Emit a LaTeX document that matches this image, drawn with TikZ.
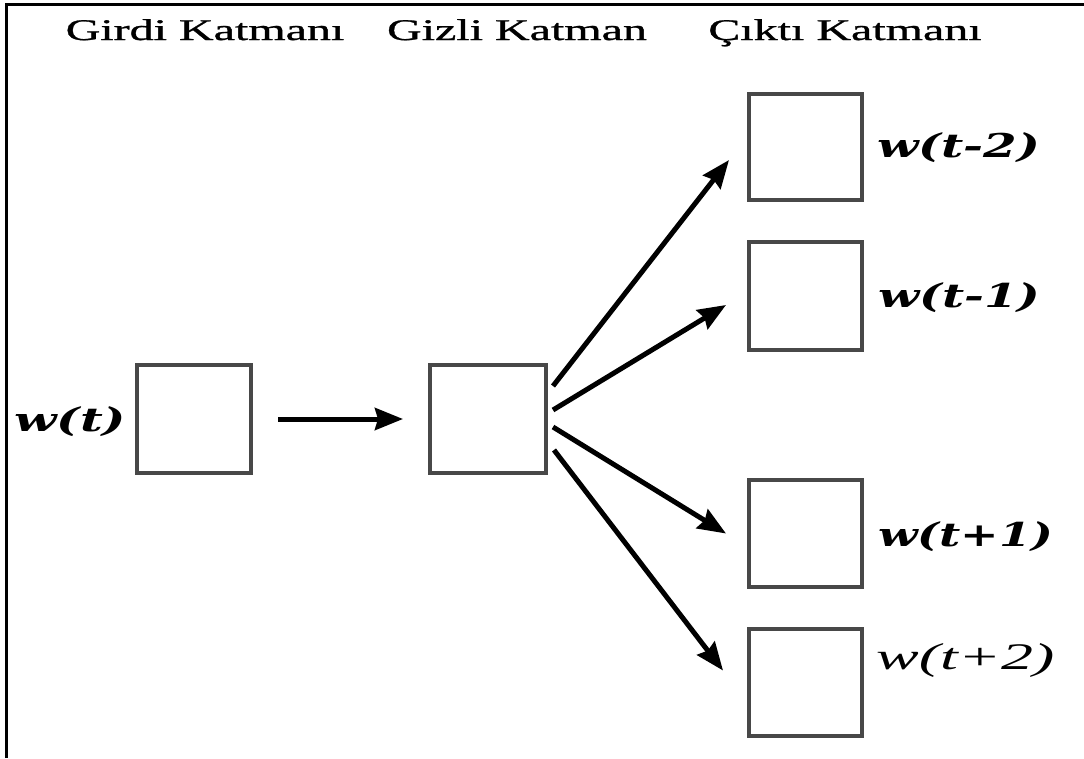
\documentclass[tikz,border=0pt]{standalone}
\usepackage{fontspec}
\setmainfont{Liberation Serif}
\newfontfamily\headfont[FakeBold=0.8]{Liberation Serif}
\newfontfamily\lblfont{DejaVu Serif}
\usetikzlibrary{arrows.meta}
\definecolor{boxgray}{RGB}{72,72,72}
\tikzset{
  layer/.style={draw=boxgray, line width=4pt, inner sep=0pt,
                minimum width=113pt, minimum height=107pt},
  arr/.style={line width=5pt, -{Stealth[length=28pt,width=22pt,inset=3pt]}},
  head/.style={anchor=base, inner sep=0pt},
  lbl/.style={anchor=west, inner sep=0pt}
}
% wide serif heading text
\newcommand\headtext[1]{\scalebox{1.6}[1]{\headfont\fontsize{30}{36}\selectfont #1}}
% word labels, sized to a fixed width and total height
\newcommand\wlabel[3]{\resizebox*{#1}{#2}{\lblfont\bfseries\itshape #3}}
\newcommand\wlabelplain[3]{\resizebox*{#1}{#2}{\itshape #3}}
\begin{document}
\begin{tikzpicture}[x=1pt,y=-1pt]
  \useasboundingbox (0,0) rectangle (1084,758);
  % frame
  \draw[line width=3pt] (6,758) -- (6,4) -- (1084,4);

  % headings
  \node[head] (h1) at (205,40) {\headtext{Girdi Katmanı}};
  \node[head] (h2) at (517,40) {\headtext{Gizli Katman}};
  \node[head] (h3) at (845,40) {\headtext{Çıktı Katmanı}};

  % layers
  \node[layer, minimum width=114pt, minimum height=108pt] (in) at (194,419) {};
  \node[layer, minimum width=116pt, minimum height=108pt] (hid) at (488,419) {};
  \node[layer, minimum height=106pt] (o1) at (805.5,147) {};
  \node[layer, minimum height=108pt] (o2) at (805.5,296) {};
  \node[layer] (o3) at (805.5,533.5) {};
  \node[layer] (o4) at (805.5,682.5) {};

  % word labels
  \node[lbl] (lt)  at (14,422)  {\wlabel{112pt}{30pt}{w(t)}};
  \node[lbl] (l1)  at (877,148) {\wlabel{163pt}{30pt}{w(t-2)}};
  \node[lbl] (l2)  at (878,298) {\wlabel{162pt}{30pt}{w(t-1)}};
  \node[lbl] (l3)  at (878,537) {\wlabel{175pt}{30pt}{w(t+1)}};
  \node[lbl] (l4)  at (876,660) {\wlabelplain{178pt}{34pt}{w(t+2)}};

  % connections
  \draw[arr] ([xshift=25pt]in.east) -- ([xshift=-25pt]hid.west);
  \draw[arr] ([shift={(5,-33)}]hid.east) -- ([shift={(-18,13)}]o1.west);
  \draw[arr] ([shift={(5,-9)}]hid.east)  -- ([shift={(-21,9)}]o2.west);
  \draw[arr] ([shift={(5,8)}]hid.east)   -- ([shift={(-21,0)}]o3.west);
  \draw[arr] ([shift={(6,31)}]hid.east)  -- ([shift={(-24,-12)}]o4.west);
\end{tikzpicture}
\end{document}
